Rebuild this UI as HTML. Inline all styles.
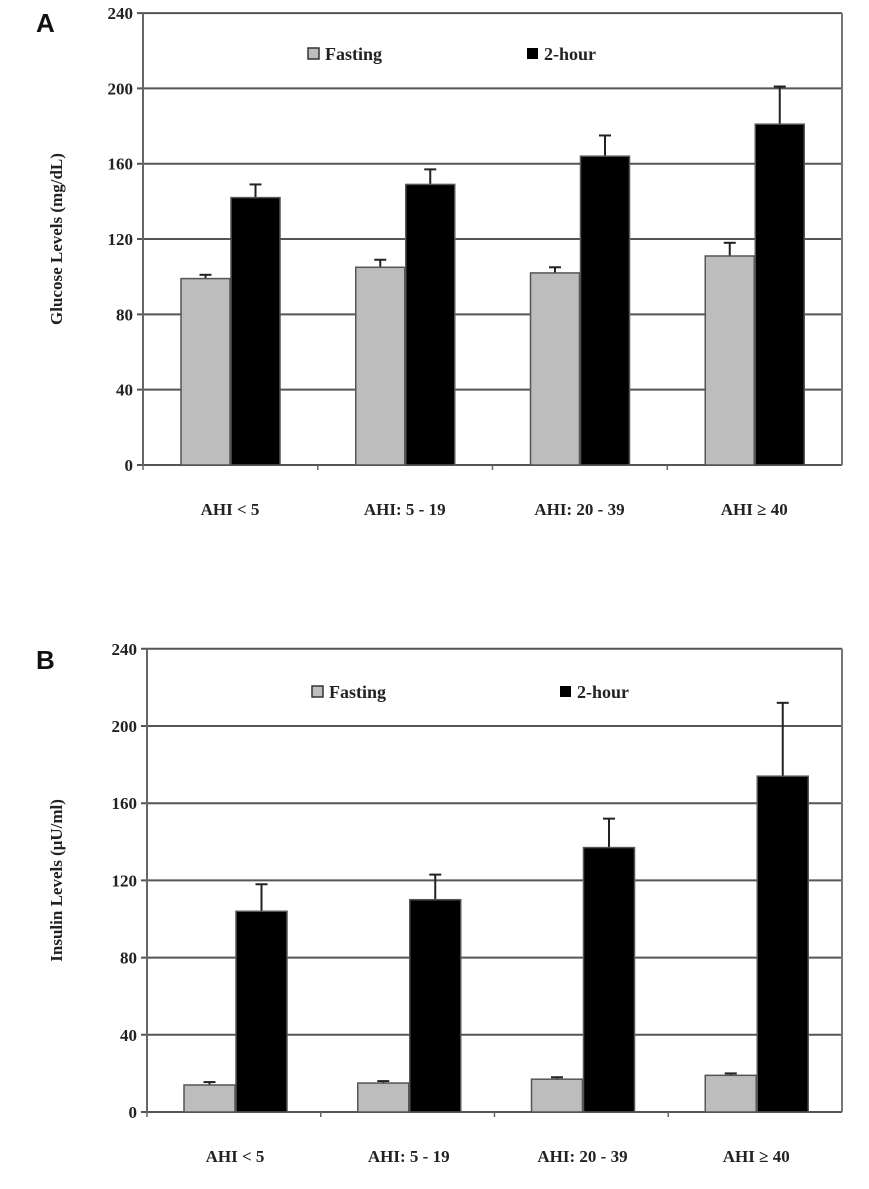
<!DOCTYPE html>
<html><head><meta charset="utf-8"><style>
html,body{margin:0;padding:0;background:#fff;}
svg{display:block;font-family:"Liberation Serif",serif;font-weight:bold;}
</style></head><body>
<svg id="s" width="869" height="1189" viewBox="0 0 869 1189" xmlns="http://www.w3.org/2000/svg"></svg>
<script>
var s=document.getElementById('s'),h='';
function panel(o){
  var y=function(v){return o.y0-v*o.k;};
  // gridlines
  for(var v=0;v<=240;v+=40){
    var c=(v==0)?'#555':'#555';
    h+='<line x1="'+(o.ax-6)+'" x2="'+o.rx+'" y1="'+y(v)+'" y2="'+y(v)+'" stroke="'+c+'" stroke-width="2"/>';
    h+='<text x="'+(o.ax-10)+'" y="'+(y(v)+6)+'" font-size="17" text-anchor="end" fill="#222">'+v+'</text>';
  }
  h+='<line x1="'+o.ax+'" x2="'+o.ax+'" y1="'+y(240)+'" y2="'+y(0)+'" stroke="#666" stroke-width="2"/>';
  h+='<line x1="'+o.rx+'" x2="'+o.rx+'" y1="'+y(240)+'" y2="'+y(0)+'" stroke="#777" stroke-width="2"/>';
  var gw=(o.rx-o.ax)/4;
  for(var i=0;i<4;i++){
    var fx=o.fx+i*gw,bx=fx+o.w+1;
    h+='<line x1="'+(o.ax+i*gw)+'" x2="'+(o.ax+i*gw)+'" y1="'+y(0)+'" y2="'+(y(0)+5)+'" stroke="#666" stroke-width="1.5"/>';
    [[fx,o.f[i],o.fe[i],'#bdbdbd'],[bx,o.b[i],o.be[i],'#000']].forEach(function(d){
      var cx=d[0]+o.w/2;
      h+='<line x1="'+cx+'" x2="'+cx+'" y1="'+y(d[1])+'" y2="'+y(d[2])+'" stroke="#222" stroke-width="2"/>';
      h+='<line x1="'+(cx-6)+'" x2="'+(cx+6)+'" y1="'+y(d[2])+'" y2="'+y(d[2])+'" stroke="#222" stroke-width="2"/>';
      h+='<rect x="'+d[0]+'" y="'+y(d[1])+'" width="'+o.w+'" height="'+(d[1]*o.k)+'" fill="'+d[3]+'" stroke="#555" stroke-width="1.5"/>';
    });
    h+='<text x="'+(fx+o.w)+'" y="'+(o.ly)+'" font-size="17" text-anchor="middle" fill="#222">'+o.labels[i]+'</text>';
  }
  h+='<rect x="'+o.l1+'" y="'+(o.legy-6)+'" width="11" height="11" fill="#bdbdbd" stroke="#333" stroke-width="1.5"/>';
  h+='<text x="'+(o.l1+17)+'" y="'+(o.legy+6)+'" font-size="18" fill="#222">Fasting</text>';
  h+='<rect x="'+o.l2+'" y="'+(o.legy-6)+'" width="11" height="11" fill="#000"/>';
  h+='<text x="'+(o.l2+17)+'" y="'+(o.legy+6)+'" font-size="18" fill="#222">2-hour</text>';
  var my=(y(240)+y(0))/2;
  h+='<text transform="translate('+o.tx+','+my+') rotate(-90)" font-size="17" text-anchor="middle" fill="#222">'+o.title+'</text>';
  h+='<text x="'+o.px+'" y="'+o.py+'" font-family="Liberation Sans,sans-serif" font-size="26" font-weight="bold" fill="#111">'+o.p+'</text>';
}
panel({y0:465,k:1.883,ax:143,rx:842,fx:181,w:49,
 f:[99,105,102,111],fe:[101,109,105,118],b:[142,149,164,181],be:[149,157,175,201],
 labels:['AHI &lt; 5','AHI: 5 - 19','AHI: 20 - 39','AHI ≥ 40'],ly:515,l1:308,l2:527,legy:54,
 title:'Glucose Levels (mg/dL)',tx:62,p:'A',px:36,py:32});
panel({y0:1112,k:1.93,ax:147,rx:842,fx:184,w:51,
 f:[14,15,17,19],fe:[15.5,16,18,20],b:[104,110,137,174],be:[118,123,152,212],
 labels:['AHI &lt; 5','AHI: 5 - 19','AHI: 20 - 39','AHI ≥ 40'],ly:1162,l1:312,l2:560,legy:692,
 title:'Insulin Levels (μU/ml)',tx:62,p:'B',px:36,py:669});
s.innerHTML=h;
</script>
</body></html>
